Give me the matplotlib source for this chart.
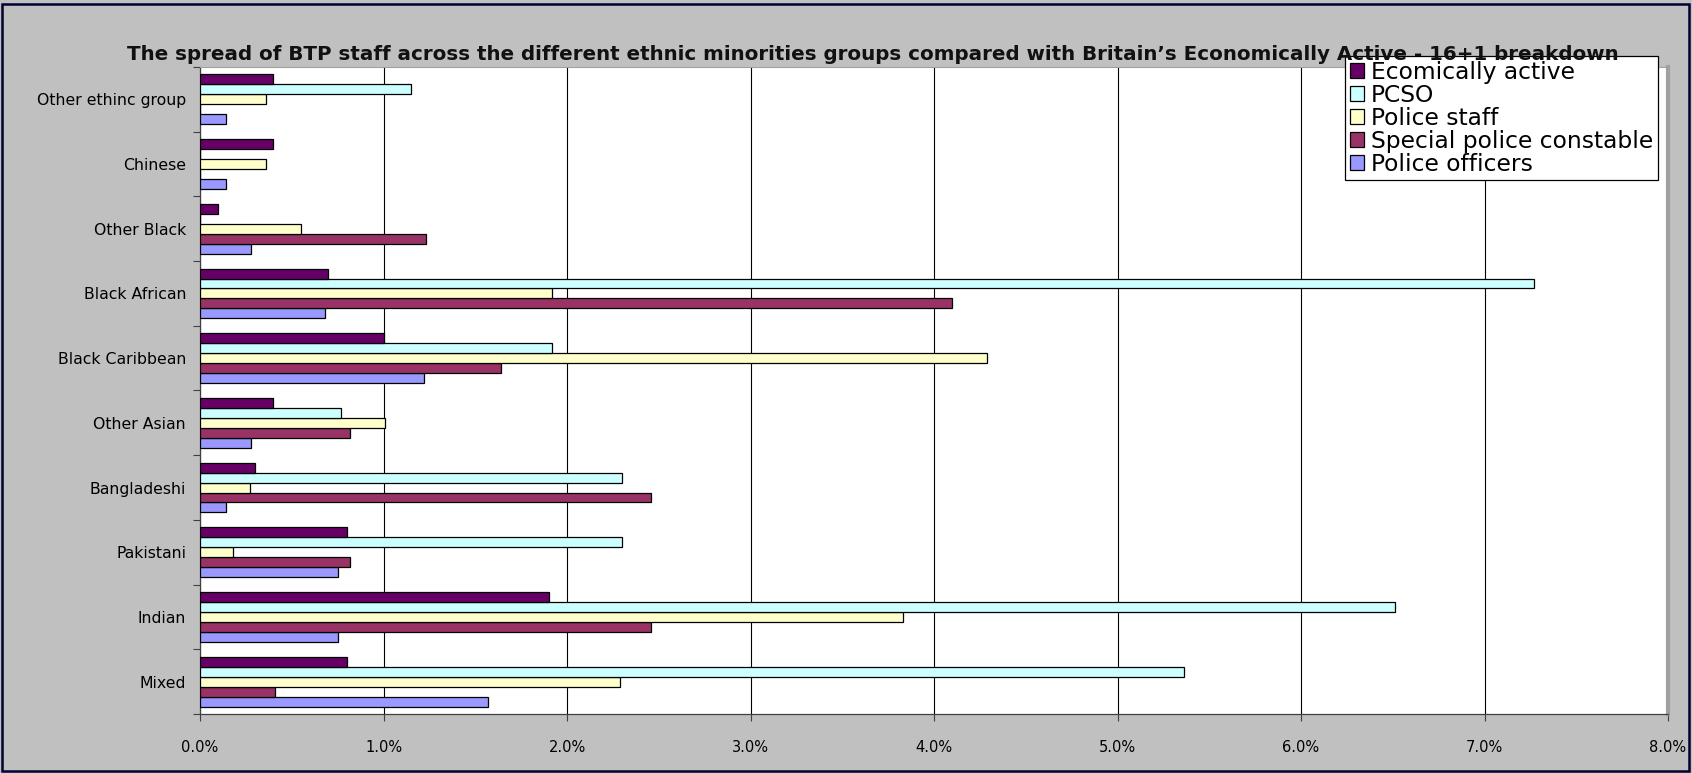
import matplotlib
matplotlib.use("Agg")
import matplotlib.pyplot as plt
from matplotlib.patches import Rectangle
from matplotlib.ticker import FuncFormatter, MultipleLocator
import numpy as np

plt.rcParams['font.family'] = ['DejaVu Sans']

# categories, bottom to top
groups = ['Mixed', 'Indian', 'Pakistani', 'Bangladeshi', 'Other Asian',
          'Black Caribbean', 'Black African', 'Other Black', 'Chinese',
          'Other ethinc group']

# values in percent
police_officers = [1.57, 0.75, 0.75, 0.14, 0.28, 1.22, 0.68, 0.28, 0.14, 0.14]
special_constable = [0.41, 2.46, 0.82, 2.46, 0.82, 1.64, 4.10, 1.23, 0.0, 0.0]
police_staff = [2.29, 3.83, 0.18, 0.27, 1.01, 4.29, 1.92, 0.55, 0.36, 0.36]
pcso = [5.36, 6.51, 2.30, 2.30, 0.77, 1.92, 7.27, 0.0, 0.0, 1.15]
ecom_active = [0.80, 1.90, 0.80, 0.30, 0.40, 1.00, 0.70, 0.10, 0.40, 0.40]

series = [
    ('Police officers', police_officers, '#9999FF'),
    ('Special police constable', special_constable, '#993366'),
    ('Police staff', police_staff, '#FFFFCC'),
    ('PCSO', pcso, '#CCFFFF'),
    ('Ecomically active', ecom_active, '#660066'),
]

W, H = 1692, 773
fig = plt.figure(figsize=(W / 100, H / 100), dpi=100)
fig.patch.set_facecolor('#C0C0C0')

ax = fig.add_axes([200 / W, (H - 714) / H, (1668 - 200) / W, (714 - 67) / H])
ax.set_facecolor('white')

y = np.arange(len(groups))
bh = 1 / 6.5
bars = {}
for j, (name, vals, col) in enumerate(series):
    bars[name] = ax.barh(y + (j - 2) * bh, vals, height=bh, color=col,
                         edgecolor='black', linewidth=0.9, zorder=3)

ax.set_xlim(0, 8)
ax.set_ylim(-0.5, len(groups) - 0.5)
ax.xaxis.set_major_locator(MultipleLocator(1))
ax.xaxis.set_major_formatter(FuncFormatter(lambda v, p: '%.1f%%' % v))
ax.grid(axis='x', color='black', linewidth=0.8, zorder=1)

ax.set_yticks(y)
ax.set_yticklabels(groups)
ax.set_yticks(np.arange(len(groups) + 1) - 0.5, minor=True)
ax.tick_params(axis='y', which='major', length=0, pad=10, labelsize=11.3)
ax.tick_params(axis='y', which='minor', length=5, width=0.8, color='#404040')
ax.tick_params(axis='x', length=5, width=0.8, color='#404040', labelsize=10.5, pad=14)

for s in ['left', 'bottom']:
    ax.spines[s].set_color('#404040')
    ax.spines[s].set_linewidth(0.9)
ax.spines['top'].set_color('#A0A0A0')
ax.spines['right'].set_color('#A0A0A0')
ax.spines['right'].set_linewidth(3)

fig.text(873 / W, (H - 54) / H,
         'The spread of BTP staff across the different ethnic minorities groups '
         'compared with Britain\u2019s Economically Active - 16+1 breakdown',
         ha='center', va='center', fontsize=14.3, fontweight='bold', color='#111111')

order = ['Ecomically active', 'PCSO', 'Police staff', 'Special police constable', 'Police officers']
leg = ax.legend([bars[n] for n in order], order, loc='upper left',
                bbox_to_anchor=(1345 / W, (H - 56) / H), bbox_transform=fig.transFigure,
                borderaxespad=0, fancybox=False, shadow=False, framealpha=1,
                edgecolor='black', fontsize=16.8, labelspacing=0.0, handlelength=0.6,
                handleheight=0.6, handletextpad=0.3, borderpad=0.2)
leg.get_frame().set_linewidth(0.9)
leg.set_zorder(10)

# outer chart border
fig.patches.append(Rectangle((2 / W, 2 / H), 1 - 5 / W, 1 - 6 / H, transform=fig.transFigure,
                             fill=False, edgecolor='#000033', linewidth=1.8))

fig.savefig('out.png', dpi=100, facecolor=fig.get_facecolor())
